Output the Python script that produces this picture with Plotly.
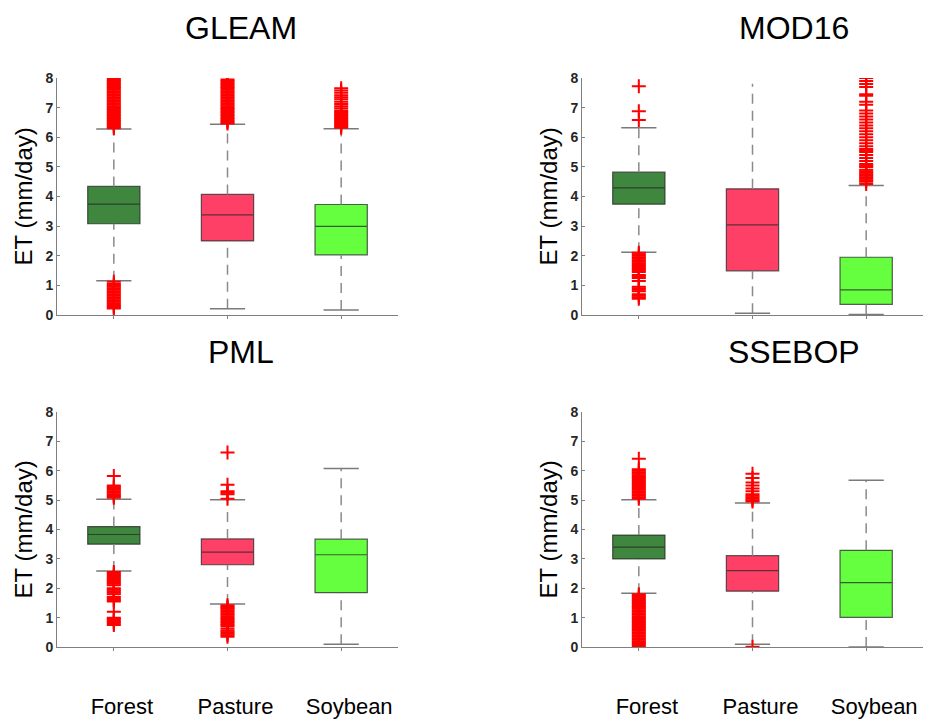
import plotly.graph_objects as go

# ---------------- data ----------------
categories = ["Forest", "Pasture", "Soybean"]
panels = ["GLEAM", "MOD16", "PML", "SSEBOP"]
box_colors = ["#3f873f", "#ff4066", "#66ff40"]

# GLEAM
gleam_q1 = [3.08, 2.50, 2.03]
gleam_med = [3.74, 3.38, 2.99]
gleam_q3 = [4.34, 4.07, 3.73]
gleam_lo = [1.16, 0.21, 0.17]
gleam_hi = [6.28, 6.44, 6.29]
gleam_out = [
    [6.3, 6.35, 6.4, 6.45, 6.5, 6.55, 6.6, 6.65, 6.7, 6.75, 6.8, 6.85, 6.9, 6.95, 7.0, 7.05,
     7.1, 7.15, 7.2, 7.25, 7.3, 7.35, 7.4, 7.45, 7.5, 7.55, 7.6, 7.65, 7.7, 7.75, 7.8, 7.85,
     7.9, 7.95, 8.0, 8.05,
     1.12, 1.05, 1.0, 0.95, 0.9, 0.85, 0.8, 0.75, 0.7, 0.65, 0.6, 0.55, 0.5, 0.45, 0.4, 0.35,
     0.3, 0.25, 0.22],
    [6.46, 6.5, 6.55, 6.6, 6.65, 6.7, 6.75, 6.8, 6.85, 6.9, 6.95, 7.0, 7.05, 7.1, 7.15, 7.2,
     7.25, 7.3, 7.35, 7.4, 7.45, 7.5, 7.55, 7.6, 7.65, 7.7, 7.75, 7.8, 7.85, 7.9, 7.95],
    [6.32, 6.36, 6.4, 6.45, 6.5, 6.55, 6.6, 6.65, 6.7, 6.75, 6.8, 6.85, 6.9, 6.98, 7.05, 7.12,
     7.2, 7.28, 7.35, 7.42, 7.5, 7.58, 7.65],
]

# MOD16
mod16_q1 = [3.74, 1.49, 0.36]
mod16_med = [4.29, 3.04, 0.85]
mod16_q3 = [4.82, 4.26, 1.95]
mod16_lo = [2.12, 0.06, 0.02]
mod16_hi = [6.32, 7.81, 4.37]
mod16_out = [
    [7.72, 6.88, 6.58,
     2.1, 2.05, 2.0, 1.95, 1.9, 1.85, 1.8, 1.75, 1.7, 1.65, 1.6, 1.55, 1.5, 1.45, 1.35, 1.3,
     1.25, 1.15, 0.95, 0.9, 0.85, 0.8, 0.7, 0.65, 0.6, 0.55],
    [],
    [4.42, 4.5, 4.55, 4.6, 4.65, 4.7, 4.75, 4.8, 4.85, 4.9, 5.0, 5.05, 5.1, 5.2, 5.3, 5.4,
     5.5, 5.55, 5.6, 5.7, 5.8, 5.9, 6.0, 6.1, 6.2, 6.3, 6.4, 6.5, 6.6, 6.7, 6.8, 6.9, 7.1,
     7.2, 7.4, 7.45, 7.7, 7.8, 7.9, 8.0, 8.05],
]

# PML
pml_q1 = [3.50, 2.80, 1.85]
pml_med = [3.83, 3.23, 3.14]
pml_q3 = [4.10, 3.68, 3.67]
pml_lo = [2.59, 1.46, 0.09]
pml_hi = [5.03, 5.01, 6.08]
pml_out = [
    [5.08, 5.12, 5.16, 5.2, 5.25, 5.3, 5.35, 5.4, 5.45, 5.5, 5.82,
     2.55, 2.5, 2.45, 2.4, 2.35, 2.3, 2.25, 2.2, 2.15, 2.1, 2.0, 1.95, 1.9, 1.85, 1.8, 1.7,
     1.65, 1.6, 1.55, 1.2, 1.0, 0.95, 0.9, 0.85, 0.8, 0.75],
    [6.62, 5.52, 5.3, 5.25, 5.2, 5.05,
     1.42, 1.38, 1.34, 1.3, 1.25, 1.2, 1.15, 1.1, 1.05, 1.0, 0.95, 0.9, 0.85, 0.8, 0.75, 0.7,
     0.62, 0.55, 0.5, 0.45, 0.4, 0.35],
    [],
]

# SSEBOP
ssebop_q1 = [3.00, 1.90, 1.01]
ssebop_med = [3.40, 2.60, 2.19]
ssebop_q3 = [3.81, 3.11, 3.29]
ssebop_lo = [1.83, 0.09, 0.0]
ssebop_hi = [5.01, 4.90, 5.68]
ssebop_out = [
    [5.05, 5.1, 5.15, 5.2, 5.25, 5.3, 5.35, 5.4, 5.45, 5.5, 5.55, 5.6, 5.65, 5.7, 5.75, 5.8,
     5.85, 5.9, 5.95, 6.0, 6.05, 6.41,
     1.8, 1.75, 1.7, 1.65, 1.6, 1.55, 1.5, 1.45, 1.4, 1.35, 1.3, 1.25, 1.2, 1.15, 1.1, 1.05,
     1.0, 0.95, 0.9, 0.85, 0.8, 0.75, 0.7, 0.65, 0.6, 0.55, 0.5, 0.45, 0.4, 0.35, 0.3, 0.25,
     0.2, 0.15, 0.1, 0.05, 0.0],
    [4.95, 5.0, 5.05, 5.1, 5.15, 5.2, 5.3, 5.4, 5.5, 5.6, 5.75, 5.9, 0.01],
    [],
]

panel_data = [
    (gleam_q1, gleam_med, gleam_q3, gleam_lo, gleam_hi, gleam_out),
    (mod16_q1, mod16_med, mod16_q3, mod16_lo, mod16_hi, mod16_out),
    (pml_q1, pml_med, pml_q3, pml_lo, pml_hi, pml_out),
    (ssebop_q1, ssebop_med, ssebop_q3, ssebop_lo, ssebop_hi, ssebop_out),
]
# upper caps not drawn (panel index, category index)
no_upper_cap = {(1, 1)}

y_ticks = [0, 1, 2, 3, 4, 5, 6, 7, 8]

# ---------------- layout geometry ----------------
W, H = 940, 722
px_x = [(57, 398), (582, 923), (57, 398), (582, 923)]
px_y = [(78, 315), (78, 315), (412, 647), (412, 647)]
title_pos = [(241, 28), (794, 28), (241, 352), (794, 352)]
ylab_x = [23, 548, 23, 548]

FONT = "Liberation Sans, Arial, sans-serif"
fig = go.Figure()
xpos = [1, 2, 3]
cap_half = 0.155
box_w = 0.46

for p in range(4):
    q1, med, q3, lo, hi, outs = panel_data[p]
    xa = "x" if p == 0 else f"x{p+1}"
    ya = "y" if p == 0 else f"y{p+1}"

    # whiskers (dashed)
    wx, wy = [], []
    for i, c in enumerate(xpos):
        wx += [c, c, None, c, c, None]
        wy += [q3[i], hi[i], None, lo[i], q1[i], None]
    fig.add_trace(go.Scatter(x=wx, y=wy, mode="lines", xaxis=xa, yaxis=ya,
                             line=dict(color="#8a8a8a", width=1.5, dash="10px,7px"),
                             showlegend=False, hoverinfo="skip"))
    # boxes
    for i, c in enumerate(xpos):
        fig.add_trace(go.Box(x=[c], q1=[q1[i]], median=[med[i]], q3=[q3[i]],
                             lowerfence=[q1[i]], upperfence=[q3[i]],
                             width=box_w, whiskerwidth=0, boxpoints=False,
                             fillcolor=box_colors[i],
                             line=dict(color="rgba(40,40,40,0.75)", width=1.2),
                             xaxis=xa, yaxis=ya, showlegend=False))
    # caps
    cx, cy = [], []
    for i, c in enumerate(xpos):
        if (p, i) not in no_upper_cap:
            cx += [c - cap_half, c + cap_half, None]
            cy += [hi[i], hi[i], None]
        cx += [c - cap_half, c + cap_half, None]
        cy += [lo[i], lo[i], None]
    fig.add_trace(go.Scatter(x=cx, y=cy, mode="lines", xaxis=xa, yaxis=ya,
                             line=dict(color="#7a7a7a", width=1.5),
                             showlegend=False, hoverinfo="skip"))
    # outliers
    ox, oy = [], []
    for i, c in enumerate(xpos):
        ox += [c] * len(outs[i])
        oy += outs[i]
    fig.add_trace(go.Scatter(x=ox, y=oy, mode="markers", xaxis=xa, yaxis=ya,
                             marker=dict(symbol="cross-thin", size=10,
                                         line=dict(color="#ff0000", width=2)),
                             showlegend=False, hoverinfo="skip"))

    x0, x1 = px_x[p]
    yt, yb = px_y[p]
    bottom = p >= 2
    xaxis_cfg = dict(domain=[x0 / W, x1 / W], range=[0.5, 3.5], anchor=ya,
                     tickvals=xpos, ticktext=categories, showticklabels=bottom,
                     ticks="outside", ticklen=3, tickcolor="#7f7f7f",
                     showline=True, linecolor="#7f7f7f", linewidth=1,
                     showgrid=False, zeroline=False, fixedrange=True, automargin=False,
                     tickfont=dict(family=FONT, size=22, color="#000000"))
    if bottom:
        xaxis_cfg["ticklabelstandoff"] = 37
        xaxis_cfg["ticklabelshift"] = 8
    yaxis_cfg = dict(domain=[(H - yb) / H, (H - yt) / H], range=[0, 8], anchor=xa,
                     tickvals=y_ticks, ticks="inside", ticklen=3, tickcolor="#7f7f7f",
                     showline=True, linecolor="#7f7f7f", linewidth=1,
                     showgrid=False, zeroline=False, fixedrange=True, automargin=False,
                     tickfont=dict(family=FONT, size=14, color="#262626", weight="bold"))
    fig.update_layout({("xaxis" if p == 0 else f"xaxis{p+1}"): xaxis_cfg,
                       ("yaxis" if p == 0 else f"yaxis{p+1}"): yaxis_cfg})

    tx, ty = title_pos[p]
    fig.add_annotation(text=panels[p], x=tx / W, y=(H - ty) / H, xref="paper", yref="paper",
                       showarrow=False, xanchor="center", yanchor="middle",
                       font=dict(family=FONT, size=32, color="#000000"))
    fig.add_annotation(text="ET (mm/day)", x=ylab_x[p] / W, y=(H - (yt + yb) / 2) / H,
                       xref="paper", yref="paper", showarrow=False, textangle=-90,
                       xanchor="center", yanchor="middle",
                       font=dict(family=FONT, size=24, color="#000000"))

fig.update_layout(width=W, height=H, margin=dict(l=0, r=0, t=0, b=0, autoexpand=False),
                  paper_bgcolor="white", plot_bgcolor="white", boxmode="overlay",
                  showlegend=False)

fig.write_html("out.html", config={"displayModeBar": False},
               post_script="document.body.style.margin='0px';")
